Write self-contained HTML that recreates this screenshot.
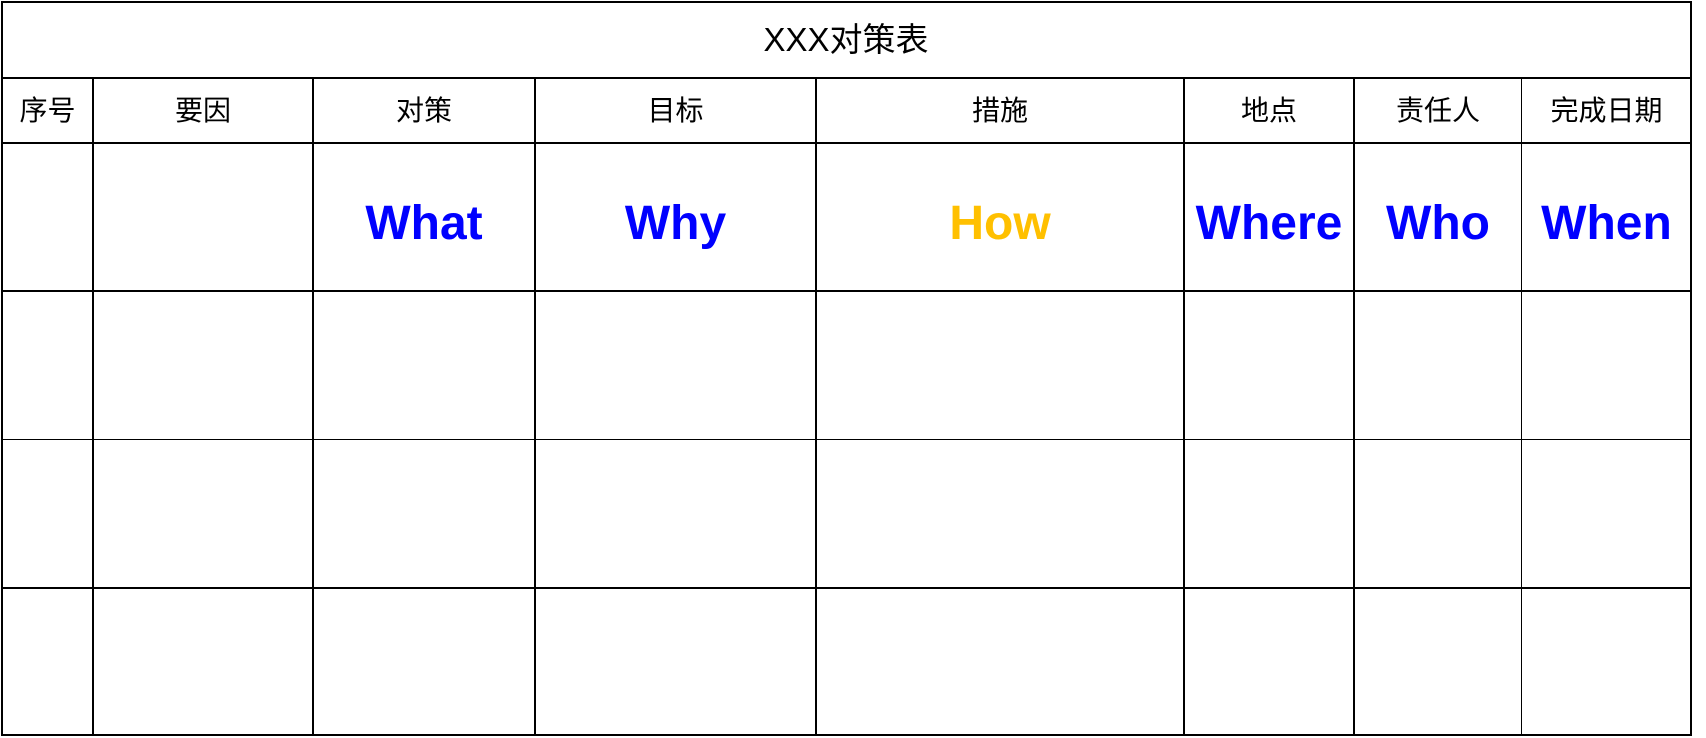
<!DOCTYPE html>
<html><head><meta charset="utf-8"><style>
body{margin:0;width:1706px;height:738px;background:#fff;position:relative;overflow:hidden;font-family:"Liberation Sans","Noto Sans CJK SC",sans-serif}
.h,.v{position:absolute;background:#000}
.t{position:absolute;text-align:center;white-space:nowrap}
.c{font-size:28px;top:93px;line-height:36px}
.b{font-size:48px;font-weight:bold;color:#0000ff;top:196px;line-height:56px}
</style></head><body>
<div class="h" style="left:1px;top:1px;width:1691px;height:2px"></div>
<div class="h" style="left:1px;top:77px;width:1691px;height:2px"></div>
<div class="h" style="left:1px;top:142px;width:1691px;height:2px"></div>
<div class="h" style="left:1px;top:290px;width:1691px;height:2px"></div>
<div class="h" style="left:1px;top:439px;width:1691px;height:1px"></div>
<div class="h" style="left:1px;top:587px;width:1691px;height:2px"></div>
<div class="h" style="left:1px;top:734px;width:1691px;height:2px"></div>
<div class="v" style="left:1px;top:1px;width:2px;height:735px"></div>
<div class="v" style="left:1690px;top:1px;width:2px;height:735px"></div>
<div class="v" style="left:92px;top:78px;width:2px;height:658px"></div>
<div class="v" style="left:312px;top:78px;width:2px;height:658px"></div>
<div class="v" style="left:534px;top:78px;width:2px;height:658px"></div>
<div class="v" style="left:815px;top:78px;width:2px;height:658px"></div>
<div class="v" style="left:1183px;top:78px;width:2px;height:658px"></div>
<div class="v" style="left:1353px;top:78px;width:2px;height:658px"></div>
<div class="v" style="left:1521px;top:78px;width:1px;height:658px"></div>
<div class="t" style="left:0;width:1692px;top:19px;font-size:33px;line-height:42px">XXX对策表</div>
<div class="t c" style="left:2px;width:91px">序号</div>
<div class="t c" style="left:93px;width:220px">要因</div>
<div class="t c" style="left:313px;width:222px">对策</div>
<div class="t c" style="left:535px;width:281px">目标</div>
<div class="t c" style="left:816px;width:368px">措施</div>
<div class="t c" style="left:1184px;width:170px">地点</div>
<div class="t c" style="left:1354px;width:168px">责任人</div>
<div class="t c" style="left:1522px;width:169px">完成日期</div>
<div class="t b" style="left:313px;width:222px">What</div>
<div class="t b" style="left:535px;width:281px">Why</div>
<div class="t b" style="left:816px;width:368px;color:#ffc000">How</div>
<div class="t b" style="left:1184px;width:170px">Where</div>
<div class="t b" style="left:1354px;width:168px">Who</div>
<div class="t b" style="left:1522px;width:169px">When</div>
</body></html>
